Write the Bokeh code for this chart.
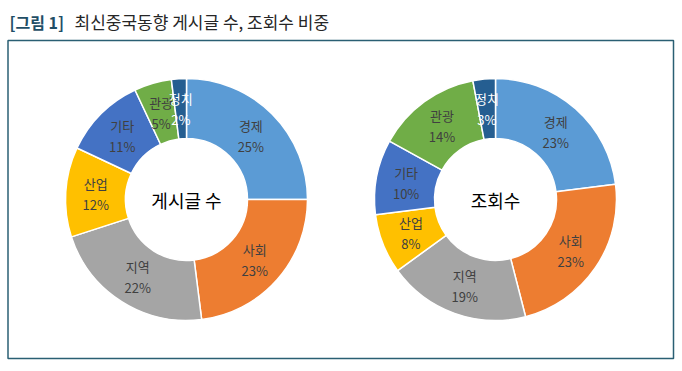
import math
from bokeh.plotting import figure
from bokeh.models import ColumnDataSource
from bokeh.core.properties import value
from bokeh.embed import file_html
from bokeh.resources import INLINE

categories = ["경제", "사회", "지역", "산업", "기타", "관광", "정치"]
colors = ["#5B9BD5", "#ED7D31", "#A5A5A5", "#FFC000", "#4472C4", "#70AD47", "#255E91"]
label_colors = ["#404040"] * 6 + ["#FFFFFF"]
posts_pct = [25, 23, 22, 12, 11, 5, 2]
views_pct = [23, 23, 19, 8, 10, 14, 3]
center_labels = ["게시글 수", "조회수"]
title_prefix = "[그림 1]"
title_rest = "최신중국동향 게시글 수, 조회수 비중"

W, H = 682, 371
FONT = "Noto Sans CJK KR"

p = figure(width=W, height=H, x_range=(0, W), y_range=(0, H),
           output_backend="svg", toolbar_location=None, min_border=0)
p.axis.visible = False
p.grid.visible = False
p.outline_line_color = None
p.background_fill_color = "white"

# title
p.text(x=[9], y=[350], text=[title_prefix], text_font=value(FONT),
       text_font_size="16px", text_font_style="bold", text_color="#1F4E66",
       text_baseline="middle", text_align="left")
p.text(x=[74], y=[350], text=[title_rest], text_font=value(FONT),
       text_font_size="17px", text_color="#262626",
       text_baseline="middle", text_align="left")

# frame
p.quad(left=[7.5], right=[673], bottom=[13], top=[331],
       fill_color=None, line_color="#2A5F73", line_width=1.5)

R_OUT, R_IN, R_LBL = 121, 61, 91


def donut(cx, cy, vals, center_text):
    total = float(sum(vals))
    starts, ends, lx, ly, pcts = [], [], [], [], []
    cum = 0.0
    for v in vals:
        a0 = math.pi / 2 - 2 * math.pi * cum / total
        cum += v
        a1 = math.pi / 2 - 2 * math.pi * cum / total
        starts.append(a0)
        ends.append(a1)
        mid = (a0 + a1) / 2
        lx.append(cx + R_LBL * math.cos(mid))
        ly.append(cy + R_LBL * math.sin(mid))
        pcts.append(f"{v}%")
    src = ColumnDataSource(dict(x=[cx] * len(vals), y=[cy] * len(vals),
                                start=starts, end=ends, color=colors,
                                lx=lx, ly=ly, name=categories, pct=pcts,
                                tc=label_colors))
    p.annular_wedge(x="x", y="y", inner_radius=R_IN, outer_radius=R_OUT,
                    start_angle="start", end_angle="end", direction="clock",
                    fill_color="color", line_color="white", line_width=1.5,
                    source=src)
    p.text(x="lx", y="ly", text="name", text_color="tc", source=src,
           text_font=value(FONT), text_font_size="13px",
           text_align="center", text_baseline="middle", y_offset=-10)
    p.text(x="lx", y="ly", text="pct", text_color="tc", source=src,
           text_font=value(FONT), text_font_size="13px",
           text_align="center", text_baseline="middle", y_offset=11)
    p.text(x=[cx], y=[cy], text=[center_text], text_font=value(FONT),
           text_font_size="18px", text_color="#000000",
           text_align="center", text_baseline="middle")


donut(186, 172, posts_pct, center_labels[0])
donut(495, 172, views_pct, center_labels[1])

open("out.html", "w").write(file_html(p, INLINE))
